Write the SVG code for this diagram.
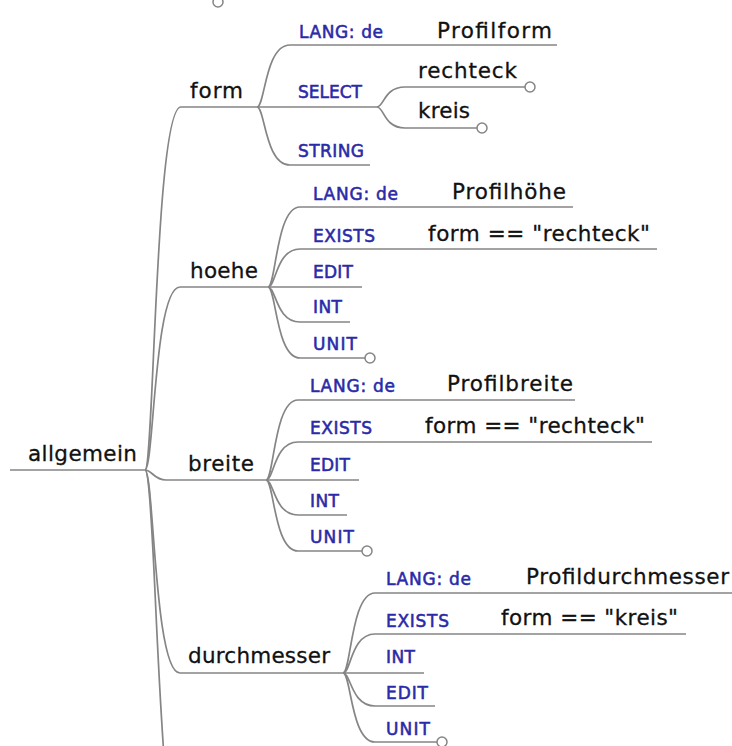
<svg xmlns="http://www.w3.org/2000/svg" width="732" height="746" viewBox="0 0 732 746">
<style>
.c{fill:none;stroke:#858585;stroke-width:1.7}
.e{fill:#fff;stroke:#858585;stroke-width:1.5}
.t{font-family:"DejaVu Sans",sans-serif;font-size:21.5px;fill:#111;stroke:#111;stroke-width:0.3}
.k{font-family:"DejaVu Sans",sans-serif;font-size:17px;fill:#2a2aa8;stroke:#2a2aa8;stroke-width:0.55}
</style>
<rect width="732" height="746" fill="#fff"/>
<g id="connectors">
<path class="c" d="M10,470 H145"/>
<path class="c" d="M145,470 C154,470 155,107 181,107 H257"/>
<path class="c" d="M257,107 C265,107 265,45 290,45 H557"/>
<path class="c" d="M257,107 H377"/>
<path class="c" d="M377,107 C384,107 384,87 405,87 H525"/>
<path class="c" d="M377,107 C384,107 384,128 405,128 H477"/>
<path class="c" d="M257,107 C265,107 265,165 290,165 H370"/>
<path class="c" d="M145,470 C154,470 154,287 180,287 H268"/>
<path class="c" d="M268,287 C276,287 276,207 300,207 H573"/>
<path class="c" d="M268,287 C276,287 276,249 300,249 H657"/>
<path class="c" d="M268,287 H362"/>
<path class="c" d="M268,287 C276,287 276,322 300,322 H350"/>
<path class="c" d="M268,287 C276,287 276,358 300,358 H365"/>
<path class="c" d="M145,470 C152,470 154,480 166,480 H266"/>
<path class="c" d="M266,480 C274,480 274,400 298,400 H575"/>
<path class="c" d="M266,480 C274,480 274,442 298,442 H652"/>
<path class="c" d="M266,480 H359"/>
<path class="c" d="M266,480 C274,480 274,515 298,515 H347"/>
<path class="c" d="M266,480 C274,480 274,551 298,551 H362"/>
<path class="c" d="M145,470 C154,470 154,673 180,673 H343"/>
<path class="c" d="M343,673 C351,673 351,593 375,593 H732"/>
<path class="c" d="M343,673 C351,673 351,634 375,634 H686"/>
<path class="c" d="M343,673 H424"/>
<path class="c" d="M343,673 C351,673 351,706 375,706 H435"/>
<path class="c" d="M343,673 C351,673 351,742 375,742 H437"/>
<path class="c" d="M145,470 C157,470 156,900 192,900"/>
<circle class="e" cx="218" cy="2" r="5"/>
<circle class="e" cx="530" cy="87" r="5"/>
<circle class="e" cx="482" cy="128" r="5"/>
<circle class="e" cx="370" cy="358" r="5"/>
<circle class="e" cx="367" cy="551" r="5"/>
<circle class="e" cx="442" cy="742" r="5"/>
</g>
<g id="allgemein"><text class="t" x="28" y="461" textLength="109">allgemein</text></g>
<g id="form">
<text class="t" x="190" y="98" textLength="53">form</text>
<text class="k" x="299" y="38" textLength="84">LANG: de</text>
<text class="t" x="437" y="38" textLength="115">Profilform</text>
<text class="k" x="298" y="98" textLength="64">SELECT</text>
<text class="t" x="418" y="78" textLength="99">rechteck</text>
<text class="t" x="418" y="118" textLength="52">kreis</text>
<text class="k" x="298" y="157" textLength="66">STRING</text>
</g>
<g id="hoehe">
<text class="t" x="190" y="278" textLength="68">hoehe</text>
<text class="k" x="313" y="200" textLength="85">LANG: de</text>
<text class="t" x="452" y="199" textLength="114">Profilhöhe</text>
<text class="k" x="313" y="242" textLength="62">EXISTS</text>
<text class="t" x="428" y="241" textLength="222">form == "rechteck"</text>
<text class="k" x="313" y="278" textLength="40">EDIT</text>
<text class="k" x="313" y="313" textLength="29">INT</text>
<text class="k" x="313" y="350" textLength="44">UNIT</text>
</g>
<g id="breite">
<text class="t" x="188" y="471" textLength="66">breite</text>
<text class="k" x="310" y="392" textLength="85">LANG: de</text>
<text class="t" x="447" y="391" textLength="126">Profilbreite</text>
<text class="k" x="310" y="434" textLength="62">EXISTS</text>
<text class="t" x="425" y="433" textLength="220">form == "rechteck"</text>
<text class="k" x="310" y="471" textLength="40">EDIT</text>
<text class="k" x="310" y="507" textLength="29">INT</text>
<text class="k" x="310" y="543" textLength="44">UNIT</text>
</g>
<g id="durchmesser">
<text class="t" x="188" y="663" textLength="142">durchmesser</text>
<text class="k" x="386" y="585" textLength="85">LANG: de</text>
<text class="t" x="526" y="584" textLength="203">Profildurchmesser</text>
<text class="k" x="386" y="627" textLength="63">EXISTS</text>
<text class="t" x="501" y="625" textLength="177">form == "kreis"</text>
<text class="k" x="386" y="663" textLength="29">INT</text>
<text class="k" x="386" y="699" textLength="42">EDIT</text>
<text class="k" x="386" y="735" textLength="44">UNIT</text>
</g>
</svg>
